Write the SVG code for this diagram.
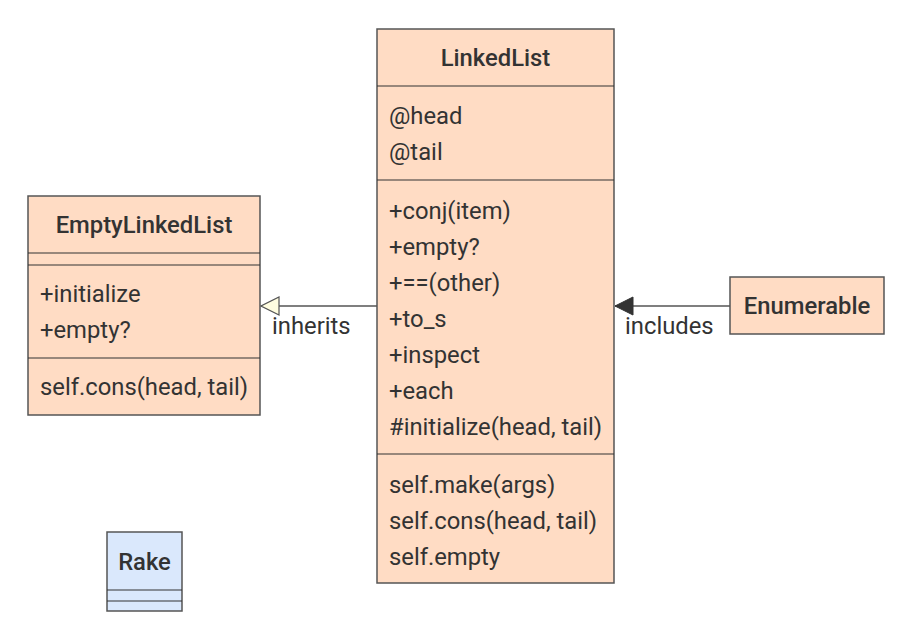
<svg xmlns="http://www.w3.org/2000/svg" width="912" height="640" viewBox="0 0 912 640">
<defs>
<style>
.box{fill:#ffdcc4;stroke:#555;stroke-width:1.5}
.boxb{fill:#dae8fc;stroke:#555;stroke-width:1.5}
.sep{stroke:#333;stroke-width:1.2}
.t{font-family:Roboto,"Liberation Sans",sans-serif;font-size:23.8px;fill:#333}
.h{font-family:Roboto,"Liberation Sans",sans-serif;font-size:23.8px;font-weight:500;fill:#333;text-anchor:middle}
.edge{stroke:#555;stroke-width:1.5;fill:none}
</style>
<marker id="inh" viewBox="0 0 20 20" refX="19" refY="10" markerWidth="20" markerHeight="20" markerUnits="userSpaceOnUse" orient="auto">
<path d="M1,1 L19,10 L1,19 Z" fill="#fffde0" stroke="#555" stroke-width="1.2"/>
</marker>
<marker id="inc" viewBox="0 0 20 20" refX="19" refY="10" markerWidth="20" markerHeight="20" markerUnits="userSpaceOnUse" orient="auto">
<path d="M1,1 L19,10 L1,19 Z" fill="#333" stroke="#333" stroke-width="1"/>
</marker>
</defs>
<g id="connectors">
<line class="edge" x1="377" y1="306" x2="261" y2="306" marker-end="url(#inh)"/>
<text class="t" x="272" y="334">inherits</text>
<line class="edge" x1="730" y1="306" x2="615" y2="306" marker-end="url(#inc)"/>
<text class="t" x="625" y="334">includes</text>
</g>
<g id="LinkedList">
<rect class="box" x="377" y="29" width="237" height="554"/>
<text class="h" x="495.5" y="66">LinkedList</text>
<line class="sep" x1="377" y1="86" x2="614" y2="86"/>
<text class="t" x="389" y="124">@head</text>
<text class="t" x="389" y="160">@tail</text>
<line class="sep" x1="377" y1="180" x2="614" y2="180"/>
<text class="t" x="389" y="219">+conj(item)</text>
<text class="t" x="389" y="255">+empty?</text>
<text class="t" x="389" y="291">+==(other)</text>
<text class="t" x="389" y="327">+to_s</text>
<text class="t" x="389" y="363">+inspect</text>
<text class="t" x="389" y="399">+each</text>
<text class="t" x="389" y="435">#initialize(head, tail)</text>
<line class="sep" x1="377" y1="454" x2="614" y2="454"/>
<text class="t" x="389" y="493">self.make(args)</text>
<text class="t" x="389" y="529">self.cons(head, tail)</text>
<text class="t" x="389" y="565">self.empty</text>
</g>
<g id="EmptyLinkedList">
<rect class="box" x="28" y="196" width="232" height="219"/>
<text class="h" x="144" y="233">EmptyLinkedList</text>
<line class="sep" x1="28" y1="253" x2="260" y2="253"/>
<line class="sep" x1="28" y1="265" x2="260" y2="265"/>
<text class="t" x="40" y="302">+initialize</text>
<text class="t" x="40" y="338">+empty?</text>
<line class="sep" x1="28" y1="358" x2="260" y2="358"/>
<text class="t" x="40" y="395">self.cons(head, tail)</text>
</g>
<g id="Enumerable">
<rect class="box" x="730" y="277" width="154" height="57"/>
<text class="h" x="807" y="314">Enumerable</text>
</g>
<g id="Rake">
<rect class="boxb" x="107" y="532" width="75" height="79"/>
<text class="h" x="144.5" y="570">Rake</text>
<line class="sep" x1="107" y1="590" x2="182" y2="590"/>
<line class="sep" x1="107" y1="601" x2="182" y2="601"/>
</g>
</svg>
